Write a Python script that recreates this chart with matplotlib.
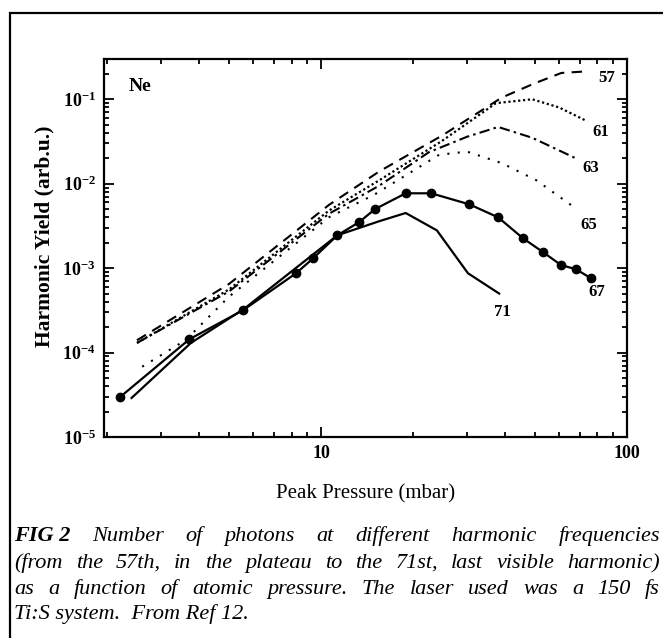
import numpy as np
import matplotlib
matplotlib.use("Agg")
import matplotlib.pyplot as plt
from matplotlib.patches import Rectangle
from matplotlib.ticker import LogLocator, NullFormatter

plt.rcParams['font.family'] = ['Liberation Serif', 'DejaVu Serif']
plt.rcParams['mathtext.fontset'] = 'custom'
plt.rcParams['mathtext.rm'] = 'Liberation Serif'
plt.rcParams['mathtext.bf'] = 'Liberation Serif:bold'

# harmonic 57 (dashed)
x57 = [2.5, 5.0, 10.6, 15.5, 24.8, 39, 50, 61, 75]
y57 = [1.4e-4, 6.5e-4, 5.6e-3, 1.4e-2, 3.7e-2, 0.105, 0.155, 0.205, 0.215]
# harmonic 61 (dense dots)
x61 = [2.5, 5.0, 10.6, 15.5, 24.8, 37.3, 49, 60, 74]
y61 = [1.3e-4, 5.6e-4, 4.8e-3, 1.1e-2, 3.2e-2, 0.09, 0.1, 0.08, 0.055]
# harmonic 63 (dash-dot)
x63 = [2.5, 5.0, 10.6, 15.5, 22.5, 30, 37.9, 49, 68]
y63 = [1.3e-4, 5.3e-4, 4.4e-3, 9.5e-3, 2.36e-2, 3.6e-2, 4.7e-2, 3.5e-2, 2.0e-2]
# harmonic 65 (sparse dots)
x65 = [2.6, 3.6, 5.0, 10.6, 15, 24.3, 30, 39, 50.5, 68]
y65 = [6.8e-5, 1.4e-4, 4.6e-4, 4.0e-3, 7.5e-3, 2.2e-2, 2.4e-2, 1.75e-2, 1.1e-2, 5.1e-3]
# harmonic 67 (circles)
x67 = [2.2, 3.71, 5.56, 8.28, 9.42, 11.3, 13.3, 15.0, 18.9, 22.9, 30.5, 37.9, 45.7, 53.1, 60.8, 68.1, 76.2]
y67 = [2.97e-5, 1.44e-4, 3.18e-4, 8.7e-4, 1.31e-3, 2.45e-3, 3.5e-3, 5.0e-3, 7.7e-3, 7.7e-3,
       5.7e-3, 4.0e-3, 2.26e-3, 1.55e-3, 1.09e-3, 9.7e-4, 7.6e-4]
# harmonic 71 (solid)
x71 = [2.4, 3.75, 5.6, 11.3, 15.5, 18.9, 23.9, 30.2, 38.2]
y71 = [2.9e-5, 1.3e-4, 3.3e-4, 2.45e-3, 3.6e-3, 4.5e-3, 2.8e-3, 8.7e-4, 5.0e-4]

labels = ['57', '61', '63', '65', '67', '71']
label_x = [86.1, 82.2, 76.2, 75.2, 79.8, 39.1]
label_y = [0.177, 0.0407, 0.0152, 3.23e-3, 5.2e-4, 3.0e-4]

fig = plt.figure(figsize=(6.63, 6.38), dpi=100)
ax = fig.add_axes([104/663, 1-437/638, 523/663, 378/638])

ax.plot(x57, y57, color='black', lw=1.5, ls=(0, (5, 3.5)))
ax.plot(x61, y61, color='black', lw=1.6, ls=(0, (1, 1.2)))
ax.plot(x63, y63, color='black', lw=1.5, ls=(0, (5, 2, 1.2, 2)))
ax.plot(x65, y65, color='black', lw=1.5, ls=(0, (1, 4)))
ax.plot(x67, y67, color='black', lw=1.6, marker='o', ms=6)
ax.plot(x71, y71, color='black', lw=1.6)

for t, lx, ly in zip(labels, label_x, label_y):
    ax.text(lx, ly, t, ha='center', va='center', fontsize=12, fontweight='bold')
ax.text(0.069, 0.926, 'Ne', transform=ax.transAxes, ha='center', va='center',
        fontsize=14, fontweight='bold')

ax.set_xscale('log')
ax.set_yscale('log')
ax.set_xlim(1.95, 100)
ax.set_ylim(1e-5, 0.3)

ax.set_xticks([10, 100])
ax.set_xticklabels(['10', '100'], fontsize=13, fontweight='bold')
ax.xaxis.set_minor_locator(LogLocator(base=10, subs=np.arange(2, 10)))
ax.xaxis.set_minor_formatter(NullFormatter())
yt = [1e-5, 1e-4, 1e-3, 1e-2, 1e-1]
ax.set_yticks(yt)
ax.set_yticklabels([r'$\mathbf{10^{-%d}}$' % k for k in [5, 4, 3, 2, 1]], fontsize=13)
ax.yaxis.set_minor_locator(LogLocator(base=10, subs=np.arange(2, 10)))
ax.yaxis.set_minor_formatter(NullFormatter())
ax.tick_params(which='both', direction='in', top=True, right=True, width=1.3)
ax.tick_params(which='major', length=7, pad=6)
ax.tick_params(which='minor', length=3.5)
for s in ax.spines.values():
    s.set_linewidth(1.6)

ax.set_xlabel('Peak Pressure (mbar)', fontsize=15, labelpad=16)
ax.set_ylabel('Harmonic Yield (arb.u.)', fontsize=15.5, fontweight='bold')
ax.yaxis.set_label_coords(-0.095, 0.53)

# outer frame, running off the right and bottom edges
fig.patches.append(Rectangle((10/663, -0.2), 1.5, 1.2 - 13/638, transform=fig.transFigure,
                             fill=False, lw=1.6, edgecolor='black'))

# caption, justified
cap_lines = [
    [('FIG 2', 'bold'), ('Number', 'normal'), ('of', 'normal'), ('photons', 'normal'), ('at', 'normal'),
     ('different', 'normal'), ('harmonic', 'normal'), ('frequencies', 'normal')],
    [(w, 'normal') for w in '(from the 57th, in the plateau to the 71st, last visible harmonic)'.split()],
    [(w, 'normal') for w in 'as a function of atomic pressure. The laser used was a 150 fs'.split()],
]
cap_y = [541, 568, 594, 619]
left_px, right_px = 14, 660
fs_cap = 16
renderer = fig.canvas.get_renderer()
for words, ypx in zip(cap_lines, cap_y):
    arts = []
    for w, wt in words:
        a = fig.text(0, 1 - ypx/638, w, fontsize=fs_cap, style='italic', fontweight=wt, va='baseline')
        arts.append(a)
    widths = [a.get_window_extent(renderer).width for a in arts]
    gap = (right_px - left_px - sum(widths)) / (len(arts) - 1)
    xpos = left_px
    for a, wdt in zip(arts, widths):
        a.set_x(xpos / 663)
        xpos += wdt + gap
fig.text(left_px/663, 1 - cap_y[3]/638, 'Ti:S system.  From Ref 12.', fontsize=fs_cap, style='italic',
         va='baseline')

fig.savefig('out.png', dpi=100)
